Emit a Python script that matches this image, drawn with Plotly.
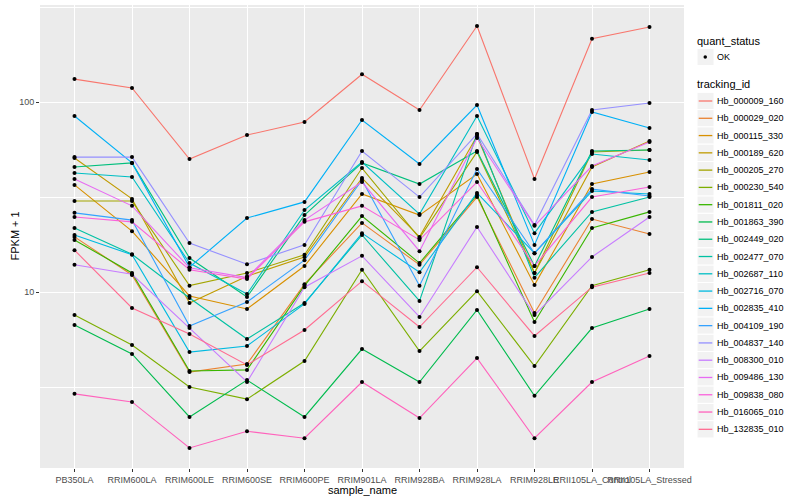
import plotly.graph_objects as go

# ---------------- data ----------------
sample_names = ["PB350LA", "RRIM600LA", "RRIM600LE", "RRIM600SE", "RRIM600PE",
                "RRIM901LA", "RRIM928BA", "RRIM928LA", "RRIM928LE",
                "RRII105LA_Control", "RRII105LA_Stressed"]

tracking_ids = ["Hb_000009_160", "Hb_000029_020", "Hb_000115_330", "Hb_000189_620",
                "Hb_000205_270", "Hb_000230_540", "Hb_001811_020", "Hb_001863_390",
                "Hb_002449_020", "Hb_002477_070", "Hb_002687_110", "Hb_002716_070",
                "Hb_002835_410", "Hb_004109_190", "Hb_004837_140", "Hb_008300_010",
                "Hb_009486_130", "Hb_009838_080", "Hb_016065_010", "Hb_132835_010"]

# FPKM + 1 values, one list per tracking_id (order = sample_names)
Hb_000009_160 = [132, 118.5, 50.1, 67.0, 78.5, 140, 90.8, 251, 39.3, 215, 248]
Hb_000029_020 = [19.5, 12.3, 3.79, 4.18, 11.0, 23.1, 13.9, 31.6, 7.75, 24.2, 20.2]
Hb_000115_330 = [36.6, 20.9, 9.53, 8.14, 13.7, 32.8, 25.4, 41.8, 10.9, 37.0, 42.8]
Hb_000189_620 = [50.7, 30.9, 8.75, 12.1, 15.3, 39.8, 19.5, 66.2, 12.6, 45.5, 62.3]
Hb_000205_270 = [30.1, 30.1, 10.8, 12.6, 15.7, 44.9, 19.2, 54.6, 12.6, 54.6, 55.9]
Hb_000230_540 = [7.56, 5.26, 3.16, 2.73, 4.33, 13.1, 4.89, 10.1, 4.08, 10.8, 13.1]
Hb_001811_020 = [18.8, 12.6, 3.84, 3.89, 10.8, 25.1, 14.2, 32.4, 6.95, 21.7, 26.4]
Hb_001863_390 = [6.71, 4.72, 2.20, 3.44, 2.20, 5.01, 3.36, 8.04, 2.84, 6.46, 8.14]
Hb_002449_020 = [45.5, 47.8, 15.1, 9.41, 25.4, 47.8, 37.0, 55.2, 13.7, 55.2, 55.9]
Hb_002477_070 = [21.7, 15.8, 9.30, 5.66, 8.75, 19.95, 8.97, 67.9, 11.9, 26.4, 31.6]
Hb_002687_110 = [42.3, 40.3, 14.2, 9.76, 27.0, 48.3, 25.7, 84.4, 20.4, 53.2, 49.5]
Hb_002716_070 = [19.95, 15.7, 4.83, 5.20, 8.65, 20.4, 12.7, 33.2, 16.0, 34.0, 32.8]
Hb_002835_410 = [84.4, 47.8, 13.5, 24.5, 29.8, 80.4, 47.2, 96.4, 17.7, 88.6, 73.0]
Hb_004109_190 = [26.1, 23.9, 6.62, 8.86, 14.7, 38.9, 10.8, 44.4, 16.0, 34.8, 32.0]
Hb_004837_140 = [51.3, 51.3, 18.1, 14.0, 17.7, 55.2, 31.6, 67.9, 22.5, 90.8, 98.8]
Hb_008300_010 = [13.9, 12.4, 6.46, 3.36, 10.6, 15.5, 7.39, 22.0, 7.56, 15.3, 24.8]
Hb_009486_130 = [39.3, 28.4, 13.4, 11.9, 23.9, 37.9, 16.4, 64.6, 22.3, 46.0, 61.6]
Hb_009838_080 = [24.8, 23.4, 13.1, 11.7, 23.4, 28.4, 18.8, 37.9, 13.7, 31.6, 35.7]
Hb_016065_010 = [2.91, 2.64, 1.51, 1.85, 1.70, 3.36, 2.17, 4.49, 1.70, 3.36, 4.61]
Hb_132835_010 = [16.6, 8.24, 6.01, 4.13, 6.31, 11.4, 6.54, 13.5, 5.87, 10.6, 12.6]

series_values = [Hb_000009_160, Hb_000029_020, Hb_000115_330, Hb_000189_620,
                 Hb_000205_270, Hb_000230_540, Hb_001811_020, Hb_001863_390,
                 Hb_002449_020, Hb_002477_070, Hb_002687_110, Hb_002716_070,
                 Hb_002835_410, Hb_004109_190, Hb_004837_140, Hb_008300_010,
                 Hb_009486_130, Hb_009838_080, Hb_016065_010, Hb_132835_010]

colors = ["#F8766D", "#EA8331", "#D89000", "#C09B00", "#A3A500", "#7CAE00", "#39B600",
          "#00BB4E", "#00BF7D", "#00C1A3", "#00BFC4", "#00BAE0", "#00B0F6", "#35A2FF",
          "#9590FF", "#C77CFF", "#E76BF3", "#FA62DB", "#FF62BC", "#FF6C91"]

y_tick_vals = [10, 100]
y_tick_text = ["10", "100"]
y_minor_vals = [10 ** 0.5, 10 ** 1.5, 10 ** 2.5]

# ---------------- figure ----------------
FONT = "Liberation Sans, Arial, sans-serif"
W, H = 800, 500
L, R, T, B = 40, 116, 5, 32
pw, ph = W - L - R, H - T - B


def fx(px):
    return (px - L) / pw


def fy(py):
    return (H - B - py) / ph


fig = go.Figure()

for name, vals, col in zip(tracking_ids, series_values, colors):
    fig.add_trace(go.Scatter(x=sample_names, y=vals, mode="lines", name=name,
                             line=dict(color=col, width=1.1), showlegend=False))
for name, vals in zip(tracking_ids, series_values):
    fig.add_trace(go.Scatter(x=sample_names, y=vals, mode="markers", name=name,
                             marker=dict(color="black", size=4), showlegend=False))

shapes = []
annotations = []

# axis titles
annotations.append(dict(text="sample_name", x=fx(362), y=fy(489.5), xref="paper", yref="paper",
                        xanchor="center", yanchor="middle", showarrow=False,
                        font=dict(family=FONT, size=11, color="black")))
annotations.append(dict(text="FPKM + 1", x=fx(14), y=fy(236.5), xref="paper", yref="paper",
                        xanchor="center", yanchor="middle", showarrow=False, textangle=-90,
                        font=dict(family=FONT, size=11, color="black")))

# legend: quant_status
annotations.append(dict(text="quant_status", x=fx(695), y=fy(41), xref="paper", yref="paper",
                        xanchor="left", yanchor="middle", showarrow=False,
                        font=dict(family=FONT, size=11, color="black")))
shapes.append(dict(type="rect", xref="paper", yref="paper", x0=fx(697), x1=fx(714),
                   y0=fy(65.6), y1=fy(48.4), fillcolor="#F2F2F2", line=dict(color="white", width=1)))
shapes.append(dict(type="circle", xref="paper", yref="paper", x0=fx(703.5), x1=fx(707),
                   y0=fy(58.8), y1=fy(55.3), fillcolor="black", line=dict(width=0)))
annotations.append(dict(text="OK", x=fx(715), y=fy(57), xref="paper", yref="paper",
                        xanchor="left", yanchor="middle", showarrow=False,
                        font=dict(family=FONT, size=9, color="black")))

# legend: tracking_id
annotations.append(dict(text="tracking_id", x=fx(695), y=fy(84.5), xref="paper", yref="paper",
                        xanchor="left", yanchor="middle", showarrow=False,
                        font=dict(family=FONT, size=11, color="black")))
for i, (name, col) in enumerate(zip(tracking_ids, colors)):
    yc = 101 + i * 17.28
    shapes.append(dict(type="rect", xref="paper", yref="paper", x0=fx(697), x1=fx(714),
                       y0=fy(yc + 8.64), y1=fy(yc - 8.64), fillcolor="#F2F2F2",
                       line=dict(color="white", width=1)))
    shapes.append(dict(type="line", xref="paper", yref="paper", x0=fx(698.7), x1=fx(712.3),
                       y0=fy(yc), y1=fy(yc), line=dict(color=col, width=1.3)))
    annotations.append(dict(text=name, x=fx(715), y=fy(yc), xref="paper", yref="paper",
                            xanchor="left", yanchor="middle", showarrow=False,
                            font=dict(family=FONT, size=9, color="black")))

fig.update_layout(
    width=W, height=H,
    margin=dict(l=L, r=R, t=T, b=B, pad=0, autoexpand=False),
    paper_bgcolor="white",
    plot_bgcolor="#EBEBEB",
    font=dict(family=FONT, size=9, color="#4D4D4D"),
    showlegend=False,
    hovermode=False,
    shapes=shapes,
    annotations=annotations,
    xaxis=dict(
        type="category", range=[-0.6, 10.6], automargin=False,
        tickmode="array", tickvals=sample_names, ticktext=sample_names,
        tickangle=0, ticks="outside", ticklen=3, tickwidth=1, tickcolor="#333333",
        tickfont=dict(family=FONT, size=9, color="#4D4D4D"),
        showgrid=True, gridcolor="white", gridwidth=1.1, zeroline=False, showline=False,
    ),
    yaxis=dict(
        type="log", range=[0.0737, 2.5105], automargin=False,
        tickmode="array", tickvals=y_tick_vals, ticktext=y_tick_text,
        ticks="outside", ticklen=3, tickwidth=1, tickcolor="#333333",
        tickfont=dict(family=FONT, size=9, color="#4D4D4D"),
        showgrid=True, gridcolor="white", gridwidth=1.1, zeroline=False, showline=False,
        minor=dict(tickvals=y_minor_vals, showgrid=True, gridcolor="white", gridwidth=0.55, ticks=""),
    ),
)

fig.write_html("out.html", config={"displayModeBar": False},
               post_script="document.body.style.margin='0px';document.body.style.overflow='hidden';")
